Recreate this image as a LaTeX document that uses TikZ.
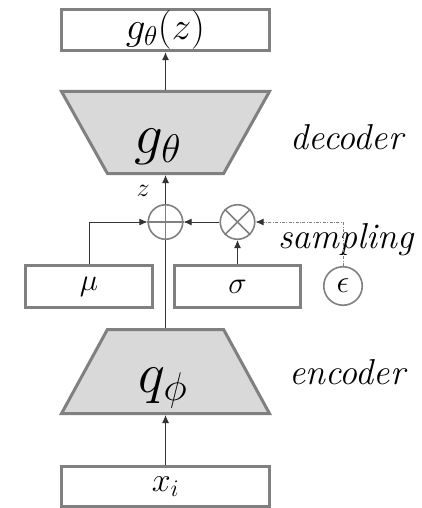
\documentclass[tikz,border=0pt]{standalone}
\usepackage{fix-cm}
\definecolor{NetGray}{RGB}{128,128,128}
\definecolor{NetFill}{RGB}{217,217,217}
\usetikzlibrary{arrows.meta,shapes.geometric}

\begin{document}
\begin{tikzpicture}[x=1pt,y=-1pt,
  box/.style={draw=NetGray,line width=3pt,inner sep=0pt,
              minimum height=41.5pt,font=\fontsize{31}{35}\selectfont},
  net/.style={trapezium,draw=NetGray,fill=NetFill,line width=3pt,
              inner sep=0pt,trapezium stretches=true,minimum width=208pt},
  netname/.style={inner sep=0pt,font=\fontsize{57}{62}\selectfont},
  op/.style={circle,draw=NetGray,line width=1.6pt,minimum size=34.5pt,inner sep=0pt},
  opline/.style={draw=NetGray,line width=1.6pt},
  conn/.style={-{Latex[length=8pt,width=7pt]},black!80,line width=0.9pt},
  noise/.style={draw=NetGray,line width=0.8pt,
                dash pattern=on 3pt off 1.5pt on 0.8pt off 1.5pt},
  lbl/.style={font=\fontsize{36}{40}\selectfont\itshape}]
  \useasboundingbox (0,0) rectangle (421,508);
  \node[box,minimum width=208pt,font=\fontsize{39}{43}\selectfont] (out) at (165.5,30) {$g_\theta(z)$};
  \node[net,trapezium left angle=115.8,trapezium right angle=115.8,
        minimum height=82pt] (dec) at (165.5,132.5) {\phantom{x}};
  \node[netname] (gname) at (158,147) {$g_\theta$};
  \node[op] (plus) at (165.5,222) {};
  \node[op] (times) at (237.5,222) {};
  \node[op,minimum size=38.5pt,font=\fontsize{32}{36}\selectfont] (eps) at (343,286) {$\epsilon$};
  \node[box,minimum width=127pt] (mu) at (89,286.5) {$\mu$};
  \node[box,minimum width=126pt] (sigma) at (237.5,286.5) {$\sigma$};
  \node[net,trapezium left angle=64.2,trapezium right angle=64.2,
        minimum height=84pt] (enc) at (165.5,371.5) {\phantom{x}};
  \node[netname] (qname) at (163,388) {$q_\phi$};
  \node[box,minimum width=208pt,minimum height=40pt,font=\fontsize{34}{38}\selectfont] (xin) at (165.5,486.5) {$x_i$};
  \node[lbl] (declbl) at (347,137) {decoder};
  \node[lbl] (enclbl) at (347,372) {encoder};
  \node[lbl] (samplbl) at (346,240) {sampling};
  \node[font=\fontsize{26}{29}\selectfont] (zlbl) at (143,191) {$z$};
  \draw[opline] (plus.north) -- (plus.south) (plus.west) -- (plus.east);
  \draw[opline] (times.north west) -- (times.south east)
                (times.north east) -- (times.south west);
  \draw[conn] (dec.north) -- (out.south);
  \draw[conn] (plus.north) -- (dec.south);
  \draw[black!80,line width=0.9pt] (enc.north) -- (plus.south);
  \draw[conn] (mu.north) |- (plus.west);
  \draw[conn] (times.west) -- (plus.east);
  \draw[conn] (sigma.north) -- (times.south);
  \draw[noise,-{Latex[length=8pt,width=7pt,black!80]}] (eps.north) |- (times.east);
  \draw[conn] (xin.north) -- (enc.south);
\end{tikzpicture}
\end{document}
